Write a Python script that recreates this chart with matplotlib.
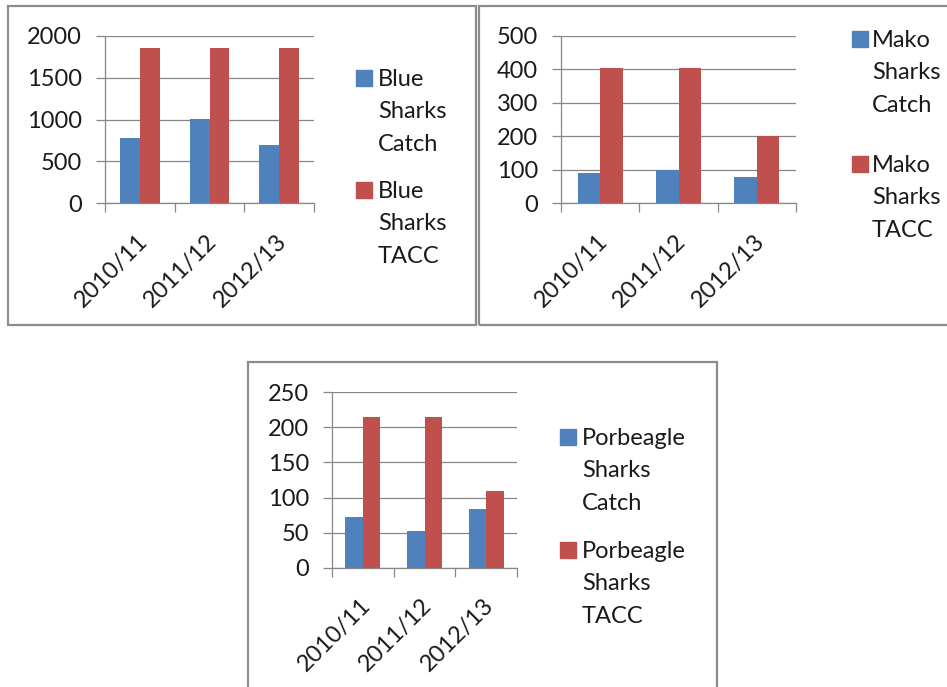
import matplotlib
matplotlib.use("Agg")
import matplotlib.pyplot as plt
from matplotlib.patches import Rectangle
import matplotlib.transforms as mtransforms

plt.rcParams['font.family'] = ['Lato', 'DejaVu Sans']

# data
years = ['2010/11', '2011/12', '2012/13']
blue_catch = [780, 1005, 700]
blue_tacc = [1860, 1860, 1860]
mako_catch = [90, 100, 78]
mako_tacc = [405, 405, 200]
porb_catch = [72, 52, 83]
porb_tacc = [215, 215, 109]

blue_labels = ['Blue Sharks Catch', 'Blue Sharks TACC']
mako_labels = ['Mako Sharks Catch', 'Mako Sharks TACC']
porb_labels = ['Porbeagle Sharks Catch', 'Porbeagle Sharks TACC']

W, H = 947, 687
C_CATCH = '#4F81BD'
C_TACC = '#C0504D'
GRID = '#878787'
BORDER = '#8c8c8c'
FS = 17

fig = plt.figure(figsize=(W / 100, H / 100), dpi=100)


def fx(x):
    return x / W


def fy(y):
    return 1 - y / H


def panel(box, ylim, step, catch, tacc, labels, leg):
    left, top, right, bottom = box
    ax = fig.add_axes([fx(left), fy(bottom), fx(right) - fx(left), fy(top) - fy(bottom)])
    w = 1 / 3.5
    xs = list(range(len(years)))
    ax.bar([x - w / 2 for x in xs], catch, w, color=C_CATCH, zorder=3)
    ax.bar([x + w / 2 for x in xs], tacc, w, color=C_TACC, zorder=3)
    ax.set_xlim(-0.5, len(years) - 0.5)
    ax.set_ylim(0, ylim)
    ax.set_yticks(range(0, ylim + 1, step))
    ax.yaxis.grid(True, color=GRID, lw=0.9, zorder=0)
    for s in ['top', 'right']:
        ax.spines[s].set_visible(False)
    for s in ['left', 'bottom']:
        ax.spines[s].set_color(GRID)
        ax.spines[s].set_linewidth(0.9)
    ax.tick_params(axis='y', length=6.5, width=0.9, color=GRID, pad=10,
                   labelsize=FS, labelcolor='#1a1a1a')
    ax.set_xticks(xs)
    ax.set_xticklabels(years, rotation=45, ha='right', va='center',
                       rotation_mode='anchor', fontsize=FS, color='#1a1a1a')
    ax.tick_params(axis='x', which='major', length=0, pad=25)
    ax.set_xticks([x - 0.5 for x in range(len(years) + 1)], minor=True)
    ax.tick_params(axis='x', which='minor', length=6.5, width=0.9, color=GRID)
    off = mtransforms.ScaledTranslation(4 / 100, 0, fig.dpi_scale_trans)
    for t in ax.get_xticklabels():
        t.set_transform(t.get_transform() + off)

    sq_x, txt_x, base_y, gap = leg
    for k, (lab, col) in enumerate(zip(labels, [C_CATCH, C_TACC])):
        y0 = base_y + k * gap
        fig.patches.append(Rectangle((fx(sq_x), fy(y0)), fx(16), 16 / H,
                                     transform=fig.transFigure, color=col))
        for i, line in enumerate(lab.split(' ')):
            fig.text(fx(txt_x), fy(y0 + i * 32.3), line, fontsize=FS,
                     color='#1a1a1a', ha='left', va='baseline')
    return ax


def border(x0, y0, x1, y1):
    fig.patches.append(Rectangle((fx(x0), fy(y1)), fx(x1) - fx(x0), fy(y0) - fy(y1),
                                 transform=fig.transFigure, fill=False,
                                 edgecolor=BORDER, lw=1.6))


border(8, 5.5, 476, 324.5)
border(479, 5.5, 960, 324.5)
border(248, 362, 717, 700)

panel((105, 36, 314, 203), 2000, 500, blue_catch, blue_tacc, blue_labels, (356, 378, 86, 112))
panel((561, 36, 796, 203), 500, 100, mako_catch, mako_tacc, mako_labels, (852, 872, 47, 125))
panel((332, 392.3, 517, 567.7), 250, 50, porb_catch, porb_tacc, porb_labels, (560, 582, 445, 113))

fig.savefig('out.png', dpi=100)
